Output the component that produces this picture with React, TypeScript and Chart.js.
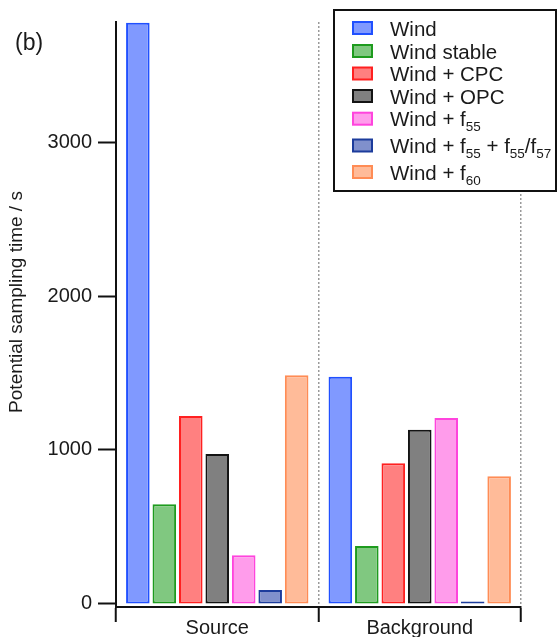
import React, { useEffect, useRef } from 'react';
import { Chart, registerables } from 'chart.js';

Chart.register(...registerables);

const categories = ['Source', 'Background'];
const seriesNames = ['Wind', 'Wind stable', 'Wind + CPC', 'Wind + OPC', 'Wind + f55', 'Wind + f55 + f55/f57', 'Wind + f60'];
const windValues = [3775, 1476];
const windStableValues = [647, 377];
const windCpcValues = [1221, 914];
const windOpcValues = [974, 1132];
const windF55Values = [316, 1208];
const windF55F57Values = [91, 16];
const windF60Values = [1485, 829];
const yTickValues = [0, 1000, 2000, 3000];
const yAxisTitle = 'Potential sampling time / s';
const panelLabel = '(b)';

// legend labels with subscripts: [text, isSubscript]
const legendParts: [string, boolean][][] = [
  [['Wind', false]],
  [['Wind stable', false]],
  [['Wind + CPC', false]],
  [['Wind + OPC', false]],
  [['Wind + f', false], ['55', true]],
  [['Wind + f', false], ['55', true], [' + f', false], ['55', true], ['/f', false], ['57', true]],
  [['Wind + f', false], ['60', true]],
];

const fillColors = ['#8099ff', '#80c880', '#ff8080', '#808080', '#ff9ceb', '#8090cc', '#ffbb99'];
const borderColors = ['#2050ff', '#1e9b1e', '#ff2020', '#141414', '#ff44dd', '#1c3c9c', '#ff8c55'];

const seriesValues = [windValues, windStableValues, windCpcValues, windOpcValues, windF55Values, windF55F57Values, windF60Values];

const FONT = '"Liberation Sans", Arial, sans-serif';

const decorPlugin = {
  id: 'decor',
  afterDraw(chart: any) {
    const ctx = chart.ctx as CanvasRenderingContext2D;
    ctx.save();
    // panel label
    ctx.fillStyle = '#1a1a1a';
    ctx.font = `23px ${FONT}`;
    ctx.textAlign = 'left';
    ctx.textBaseline = 'alphabetic';
    ctx.fillText(panelLabel, 15, 49.5);
    // y title
    ctx.save();
    ctx.translate(17, 302);
    ctx.rotate(-Math.PI / 2);
    ctx.font = `19px ${FONT}`;
    ctx.textAlign = 'center';
    ctx.textBaseline = 'middle';
    ctx.fillText(yAxisTitle, 0, 0);
    ctx.restore();
    // legend
    const bx = 334, by = 10, bw = 222, bh = 181;
    ctx.fillStyle = '#ffffff';
    ctx.fillRect(bx, by, bw, bh);
    ctx.lineWidth = 2;
    ctx.strokeStyle = '#111';
    ctx.strokeRect(bx, by, bw, bh);
    const rowCenters = [28, 51, 73.5, 96, 118.7, 145.5, 172];
    legendParts.forEach((parts, i) => {
      const cy = rowCenters[i];
      ctx.fillStyle = fillColors[i];
      ctx.fillRect(353, cy - 6, 19, 12);
      ctx.strokeStyle = borderColors[i];
      ctx.lineWidth = 2;
      ctx.strokeRect(353, cy - 6, 19, 12);
      let x = 390;
      const base = cy + 7.5;
      ctx.fillStyle = '#1a1a1a';
      ctx.textAlign = 'left';
      ctx.textBaseline = 'alphabetic';
      parts.forEach(([t, sub]) => {
        ctx.font = sub ? `13.5px ${FONT}` : `20.5px ${FONT}`;
        ctx.fillText(t, x, sub ? base + 5 : base);
        x += ctx.measureText(t).width;
      });
    });
    ctx.restore();
  },
};

export default function App() {
  const ref = useRef<HTMLCanvasElement>(null);
  useEffect(() => {
    if (!ref.current) return;
    const chart = new Chart(ref.current, {
      type: 'bar',
      data: {
        labels: categories,
        datasets: seriesNames.map((name, i) => ({
          label: name,
          data: seriesValues[i],
          backgroundColor: fillColors[i],
          borderColor: borderColors[i],
          borderWidth: 2,
          borderSkipped: false,
          categoryPercentage: 0.915,
          barPercentage: 0.89,
        })),
      },
      options: {
        animation: false,
        responsive: false,
        maintainAspectRatio: false,
        layout: { padding: { left: 0, top: 22, right: 37, bottom: 0 } },
        plugins: { legend: { display: false }, tooltip: { enabled: false } },
        scales: {
          x: {
            grid: {
              offset: true,
              drawOnChartArea: true,
              color: (c: any) => (c.index === 0 ? 'rgba(0,0,0,0)' : '#9a9a9a'),
              lineWidth: 1.5,
              tickColor: '#111',
              tickWidth: 2,
              tickLength: 15,
            },
            border: { display: true, color: '#111', width: 2, dash: [2, 2] },
            ticks: { color: '#1a1a1a', font: { size: 20, family: FONT }, padding: -6, maxRotation: 0 },
            afterFit: (axis: any) => { axis.height = 30; },
          },
          y: {
            min: -20,
            max: 3780,
            afterBuildTicks: (axis: any) => { axis.ticks = yTickValues.map((v) => ({ value: v })); },
            grid: { drawOnChartArea: false, tickColor: '#111', tickWidth: 2, tickLength: 18 },
            border: { display: true, color: '#111', width: 2 },
            ticks: {
              color: '#1a1a1a',
              font: { size: 20, family: FONT },
              padding: 6,
              callback: (v: any) => String(v),
            },
            afterFit: (axis: any) => { axis.width = 116; },
          },
        },
      },
      plugins: [decorPlugin],
    });
    return () => chart.destroy();
  }, []);
  return (
    <div style={{ position: 'fixed', left: 0, top: 0, width: 558, height: 637, background: '#fff' }}>
      <canvas ref={ref} width={558} height={637} style={{ display: 'block' }} />
    </div>
  );
}
